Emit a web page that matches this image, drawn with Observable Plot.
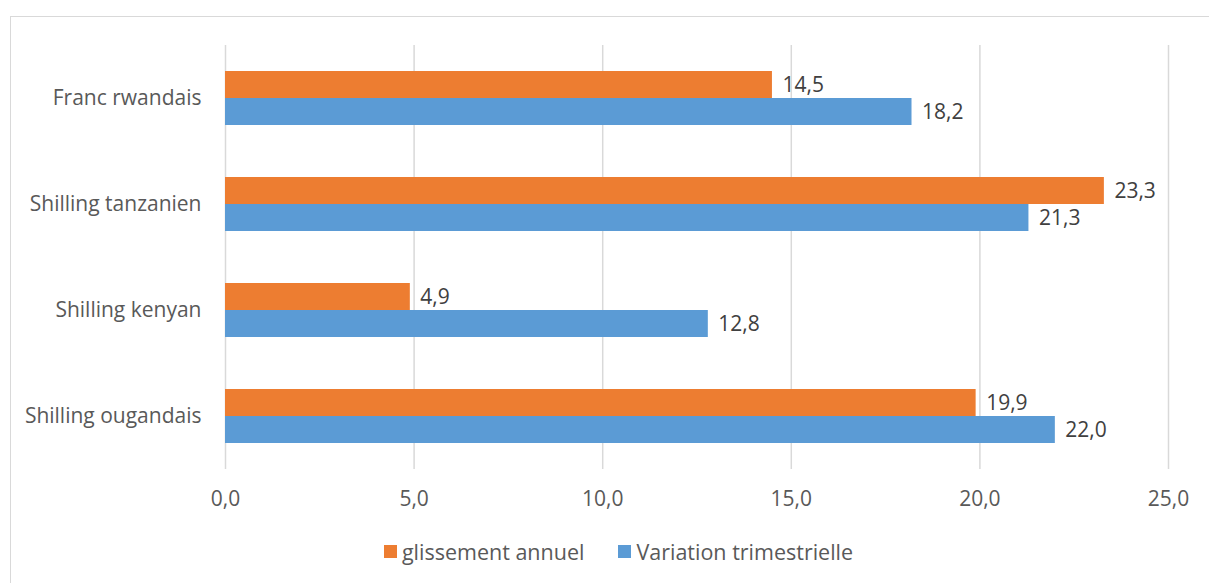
<!DOCTYPE html>
<html>
<head>
<meta charset="utf-8">
<script src="https://cdn.jsdelivr.net/npm/d3@7"></script>
<script src="https://cdn.jsdelivr.net/npm/@observablehq/plot@0.6"></script>
<style>
  body { margin: 0; background: #fff; overflow: hidden; }
  #wrap { position: relative; width: 1209px; height: 583px; overflow: hidden; }
  #frame { position: absolute; left: 10px; top: 16px; width: 1220px; height: 620px; border: 1px solid #d9d9d9; box-sizing: border-box; }
  #chart { position: absolute; left: 0; top: 0; }
  #legend { position: absolute; left: 0; top: 537px; width: 1209px; display: flex; justify-content: center; gap: 34px;
            font-family: "Open Sans", sans-serif; font-size: 21.5px; color: #595959; padding-left: 28px; box-sizing: border-box; }
  .item { display: flex; align-items: center; gap: 5px; }
  .sw { width: 13px; height: 13px; display: inline-block; }
</style>
</head>
<body>
<div id="wrap">
  <div id="frame"></div>
  <div id="chart"></div>
  <div id="legend"></div>
</div>
<script>
const categories = ["Franc rwandais", "Shilling tanzanien", "Shilling kenyan", "Shilling ougandais"];
const series = ["glissement annuel", "Variation trimestrielle"];
const colors = ["#ED7D31", "#5B9BD5"];
const glissement = [14.5, 23.3, 4.9, 19.9];
const variation = [18.2, 21.3, 12.8, 22.0];
const xTicks = [0, 5, 10, 15, 20, 25];

const data = [];
categories.forEach((c, i) => {
  data.push({cat: c, series: series[0], value: glissement[i]});
  data.push({cat: c, series: series[1], value: variation[i]});
});
const fmt = d => d.toFixed(1).replace(".", ",");

const plot = Plot.plot({
  width: 1209,
  height: 530,
  marginLeft: 225,
  marginRight: 41,
  marginTop: 45,
  marginBottom: 61,
  style: {fontFamily: "'Open Sans', sans-serif", fontSize: "21px", color: "#595959", background: "transparent"},
  x: {domain: [0, 25], ticks: xTicks, tickFormat: fmt, tickSize: 0, tickPadding: 22, label: null},
  fy: {domain: categories, padding: 0, label: null, tickSize: 0, tickPadding: 24},
  y: {domain: series, paddingInner: 0, paddingOuter: 0.927, axis: null},
  color: {domain: series, range: colors},
  facet: {data: data, y: "cat"},
  marks: [
    Plot.ruleX(xTicks, {stroke: "#d9d9d9", strokeWidth: 1.5}),
    Plot.barX(data, {x: "value", y: "series", fill: "series"}),
    Plot.text(data, {x: "value", y: "series", text: d => fmt(d.value), textAnchor: "start", dx: 10, fill: "#404040", fontSize: 21})
  ]
});
document.getElementById("chart").appendChild(plot);

const legend = document.getElementById("legend");
series.forEach((s, i) => {
  const it = document.createElement("div");
  it.className = "item";
  it.innerHTML = `<span class="sw" style="background:${colors[i]}"></span><span>${s}</span>`;
  legend.appendChild(it);
});
</script>
</body>
</html>
